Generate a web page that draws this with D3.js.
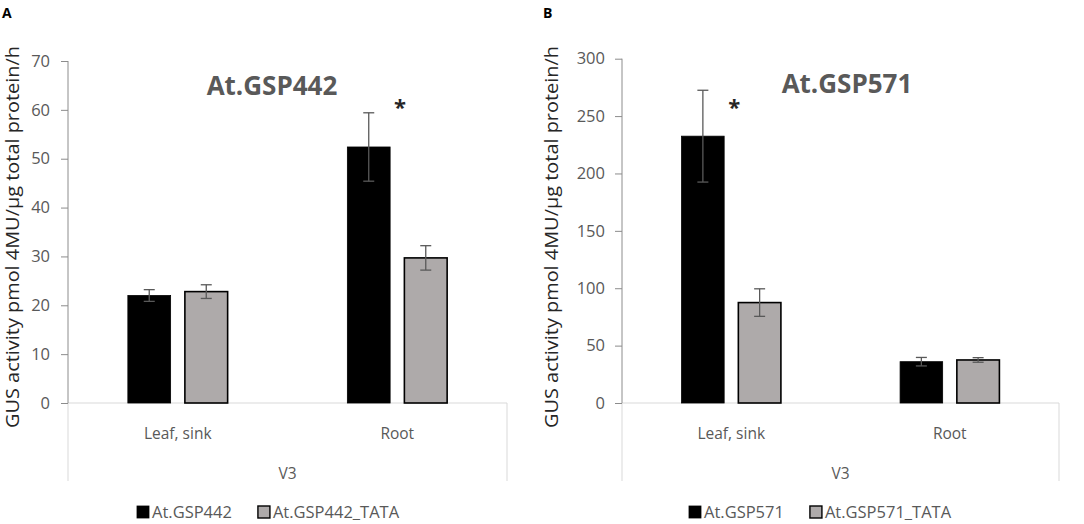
<!DOCTYPE html>
<html>
<head>
<meta charset="utf-8">
<script src="https://cdn.jsdelivr.net/npm/d3@7"></script>
<style>
  body { margin: 0; background: #fff; }
  svg { display: block; font-family: "Open Sans", "Liberation Sans", sans-serif; }
</style>
</head>
<body>
<svg width="1084" height="524"></svg>
<script>
// categories and series
const tissues = ["Leaf, sink", "Root"];
const stage = "V3";
const yTitle = "GUS activity pmol 4MU/\u00b5g total protein/h";

// panel A: At.GSP442
const seriesA = ["At.GSP442", "At.GSP442_TATA"];
const meanA_native = [22.0, 52.4];
const errA_native = [1.2, 7.0];
const meanA_tata = [22.8, 29.7];
const errA_tata = [1.4, 2.5];
const ticksA = [0, 10, 20, 30, 40, 50, 60, 70];

// panel B: At.GSP571
const seriesB = ["At.GSP571", "At.GSP571_TATA"];
const meanB_native = [232.5, 36.0];
const errB_native = [40.0, 3.7];
const meanB_tata = [87.5, 37.5];
const errB_tata = [12.0, 2.0];
const ticksB = [0, 50, 100, 150, 200, 250, 300];

// significance marks: [tissue index]
const starA = [1];
const starB = [0];

const colors = ["#000000", "#aeaaaa"];
const grey = "#595959";

const svg = d3.select("svg");

function drawPanel(p) {
    /* Draw one Excel-like clustered bar panel
     * p: left, right, top, bottom, ticks, series, means, errs, title, letter ...
     */
    const g = svg.append("g");

    const y = d3.scaleLinear()
        .domain([0, d3.max(p.ticks)])
        .range([p.bottom, p.top]);

    const x0 = d3.scaleBand()
        .domain(tissues)
        .range([p.left, p.right]);

    const x1 = d3.scaleBand()
        .domain(p.series)
        .range([0, x0.bandwidth()])
        .paddingInner(0.25)
        .paddingOuter(1.05);

    // panel letter
    g.append("text")
        .attr("x", p.letterX)
        .attr("y", 18)
        .attr("font-size", 14)
        .attr("font-weight", "bold")
        .attr("fill", "#000")
        .text(p.letter);

    // category box below the axis
    g.append("line")
        .attr("x1", p.left).attr("x2", p.right)
        .attr("y1", p.bottom).attr("y2", p.bottom)
        .attr("stroke", "#d9d9d9");
    [p.left, p.right].forEach(function(xx){
        g.append("line")
            .attr("x1", xx).attr("x2", xx)
            .attr("y1", p.bottom).attr("y2", p.bottom + 78)
            .attr("stroke", "#d9d9d9");
    });

    // y axis
    const yAxis = d3.axisLeft(y).tickValues(p.ticks).tickSize(7).tickPadding(p.tickPad);
    const ga = g.append("g")
        .attr("transform", "translate(" + p.left + ",0)")
        .call(yAxis);
    ga.select(".domain").attr("stroke", "#8c8c8c").attr("d", "M0," + y(d3.max(p.ticks)) + "V" + p.bottom);
    ga.selectAll(".tick line").attr("stroke", "#8c8c8c");
    ga.selectAll(".tick text")
        .attr("fill", grey)
        .attr("font-size", 16.5)
        .attr("font-family", "Open Sans, sans-serif");

    // y title
    g.append("text")
        .attr("transform", "translate(" + p.yTitleX + ",237) rotate(-90)")
        .attr("text-anchor", "middle")
        .attr("font-size", 17.5)
        .attr("textLength", 382)
        .attr("lengthAdjust", "spacingAndGlyphs")
        .attr("fill", "#262626")
        .text(yTitle);

    // bars
    p.series.forEach(function(s, si){
        const means = p.means[si], errs = p.errs[si];
        tissues.forEach(function(t, ti){
            const bx = x0(t) + x1(s);
            g.append("rect")
                .attr("x", bx)
                .attr("y", y(means[ti]))
                .attr("width", x1.bandwidth())
                .attr("height", p.bottom - y(means[ti]))
                .attr("fill", colors[si])
                .attr("stroke", "#000")
                .attr("stroke-width", si === 0 ? 0.8 : 1.6);

            // error bar
            const cx = bx + x1.bandwidth() / 2;
            g.append("line")
                .attr("x1", cx).attr("x2", cx)
                .attr("y1", y(means[ti] + errs[ti])).attr("y2", y(means[ti] - errs[ti]))
                .attr("stroke", grey).attr("stroke-width", 1.3);
            [means[ti] + errs[ti], means[ti] - errs[ti]].forEach(function(v){
                g.append("line")
                    .attr("x1", cx - 5.5).attr("x2", cx + 5.5)
                    .attr("y1", y(v)).attr("y2", y(v))
                    .attr("stroke", grey).attr("stroke-width", 1.3);
            });
        });
    });

    // significance star, right of the native bar
    p.stars.forEach(function(ti){
        const t = tissues[ti];
        const sx = x0(t) + x1(p.series[0]) + x1.bandwidth() + 10;
        g.append("text")
            .attr("x", sx)
            .attr("y", 115)
            .attr("text-anchor", "middle")
            .attr("font-size", 22)
            .attr("font-weight", "bold")
            .attr("fill", "#262626")
            .text("*");
    });

    // chart title
    g.append("text")
        .attr("x", p.titleX)
        .attr("y", p.titleY)
        .attr("text-anchor", "middle")
        .attr("font-size", 26)
        .attr("font-weight", "bold")
        .attr("fill", grey)
        .text(p.title);

    // category labels
    tissues.forEach(function(t){
        g.append("text")
            .attr("x", x0(t) + x0.bandwidth() / 2)
            .attr("y", p.bottom + 36)
            .attr("text-anchor", "middle")
            .attr("font-size", 15.5)
            .attr("fill", grey)
            .text(t);
    });
    g.append("text")
        .attr("x", (p.left + p.right) / 2)
        .attr("y", p.bottom + 76)
        .attr("text-anchor", "middle")
        .attr("font-size", 15.5)
        .attr("fill", grey)
        .text(stage);

    // legend
    const lg = g.append("g").attr("transform", "translate(" + p.legendX + ",512)");
    let off = 0;
    p.series.forEach(function(s, si){
        lg.append("rect")
            .attr("x", off).attr("y", -6)
            .attr("width", 12).attr("height", 12)
            .attr("fill", colors[si])
            .attr("stroke", "#000")
            .attr("stroke-width", si === 0 ? 0.8 : 1.4);
        const tx = lg.append("text")
            .attr("x", off + 15).attr("y", 6)
            .attr("font-size", 16.5)
            .attr("fill", grey)
            .text(s);
        off += 15 + tx.node().getComputedTextLength() + 26;
    });
}

drawPanel({
    letter: "A", letterX: 2,
    left: 68, right: 507, top: 61, bottom: 403,
    yTitleX: 19, tickPad: 11,
    ticks: ticksA, series: seriesA,
    means: [meanA_native, meanA_tata], errs: [errA_native, errA_tata],
    stars: starA, title: "At.GSP442", titleX: 272, titleY: 95, legendX: 137
});

drawPanel({
    letter: "B", letterX: 543,
    left: 622, right: 1059, top: 58.7, bottom: 403,
    yTitleX: 558, tickPad: 10,
    ticks: ticksB, series: seriesB,
    means: [meanB_native, meanB_tata], errs: [errB_native, errB_tata],
    stars: starB, title: "At.GSP571", titleX: 847, titleY: 93, legendX: 689
});
</script>
</body>
</html>
